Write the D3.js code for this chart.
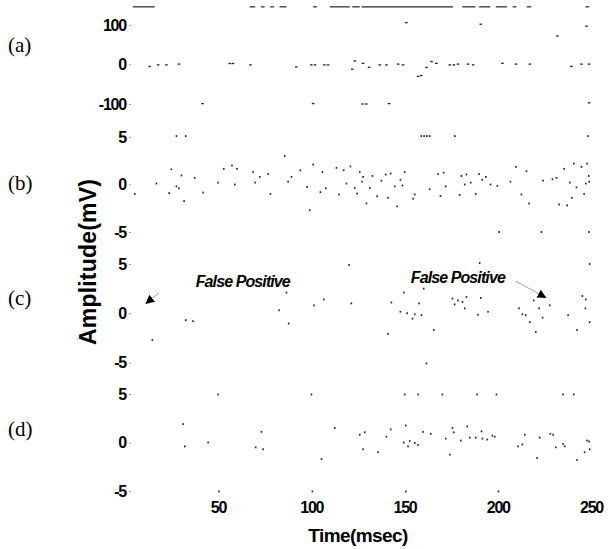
<!DOCTYPE html>
<meta charset="utf-8">
<head>
<style>
body { margin: 0; background: #fff; }
svg { display: block; }
.tick text { font-family: "Liberation Sans", Arial, sans-serif; font-weight: bold; font-size: 16px; letter-spacing: -1.2px; fill: #000; }
.tick line { stroke: #999; }
.title { font-family: "Liberation Sans", Arial, sans-serif; font-weight: bold; fill: #000; }
.plabel { font-family: "Liberation Serif", "Times New Roman", serif; font-size: 21px; fill: #000; }
.fp { font-family: "Liberation Sans", Arial, sans-serif; font-weight: bold; font-style: italic; font-size: 16px; letter-spacing: -0.9px; fill: #000; }
.dot { fill: #222; }
</style>
</head>
<body>
<script src="https://cdnjs.cloudflare.com/ajax/libs/d3/7.8.5/d3.min.js"></script>
<script>
//----------------------------DATA------------------------------//
var timeTicks = [50, 100, 150, 200, 250];
var panelNames = ["(a)", "(b)", "(c)", "(d)"];
var ticksA = [-100, 0, 100];
var ticksB = [-5, 0, 5];
var ticksC = [-5, 0, 5];
var ticksD = [-5, 0, 5];

// (a) [time msec, amplitude]
var sigA = [[13.4,-5],[17.9,-1],[22.3,-1],[29.1,1],[56.3,2.5],[58,2.5],[67.4,-1],[92,-6],
  [100,-1],[102,-1],[107,-1],[109,-1],[122,-12],[123.3,9],[127.8,3],[131,-7],[136.7,-1],
  [140.3,-1],[146.6,1],[149.2,-1],[157.3,-30],[159,-28],[161.8,-7.5],[164.5,7.5],[167.1,3],
  [174.3,-1],[176.5,-1],[178.7,1],[184.1,1],[186.8,-1],[202.5,3],[209.7,1],[217.2,1],
  [239.5,-5],[244.9,1],[249,1],
  [151,106],[190.9,102],[247.6,97],[232,72],
  [41.7,-99],[101,-99],[127.5,-100],[129.5,-100],[141.7,-99],[249,-97]];
// (a) top trace, pieces [from, to] in msec
var topA = [[4.3,16.1],[67,70],[73,75],[78,80],[83,86.7],[101,103],[110,120.6],[122,126],
  [127,176],[181,188],[190,196],[199,205],[208,210],[215.5,218],[247,249]];

var sigB = [[5.4,-1],[17,0.1],[23.8,-0.9],[25,1.6],[27.7,-0.2],[29.1,-0.4],[30.4,0.95],
  [31.8,-1.75],[37.5,0.7],[42,-0.85],[50,0.2],[53.1,1.65],[57.5,2],[60.2,1.65],[59,0],
  [68.8,1.3],[69.9,0.2],[72.4,0.8],[76.9,1.1],[78.1,-1],[85.8,3],[87.6,0.3],[89.4,0.8],
  [94.2,1.5],[97.8,-0.25],[99.2,-2.7],[101,2.1],[104.9,-0.8],[106,1.3],[107.8,-0.4],
  [113.5,1.75],[114.9,-1.05],[117.4,1.5],[118.9,0.1],[121,1.9],[123.3,-0.35],[124.6,-0.95],
  [126,1.3],[127.2,0.3],[127.8,0.8],[129.6,-2],[131.4,-0.35],[132.8,0.9],[135.3,-1.25],
  [137.6,0.4],[139.9,1.05],[141.2,-1.4],[142.6,1.15],[144.8,-0.2],[146,-2.3],[147.8,0.5],
  [148.9,-0.1],[150.1,1.3],[154.6,-1.5],[155.5,-1.05],[163.5,-0.5],[168,1.1],[169.3,-1.2],
  [171,1.25],[172.1,-0.2],[179.6,-1.1],[180.5,0.9],[182.3,0],[183.2,1.05],[185.5,0.2],
  [188.2,-1],[190,1.1],[191.6,0.5],[193.6,0.8],[196.1,0],[199.8,-0.15],[206.8,0.3],
  [209.7,1.85],[212.7,-1.05],[215.4,1.4],[216.8,-2],[224.3,0.4],[229.3,0.55],[231.5,0.7],
  [232.9,-2.1],[235.6,1.65],[237.2,-2.2],[238.6,0.2],[239.7,-1.4],[240.8,2.2],[242.2,-0.3],
  [244.9,1.85],[246.3,-1],[247.2,0.1],[247.9,2.2],[248.8,0.9],[249,0.3],
  [27.7,5.1],[32.7,5.1],[159,5.1],[160.5,5.1],[162,5.1],[163.5,5.1],[177,5.1],[248.4,5.1],
  [200.7,-5],[223.4,-5],[249,-5]];

var sigC = [[14.8,-2.7],[32.7,-0.7],[36.6,-0.8],[82.7,0.3],[86.7,2.1],[87.9,-1.05],[101.5,0.8],
  [106.7,1.4],[120.3,4.9],[121.5,1],[141.2,-2.1],[143,1.1],[147.8,0.15],[149.6,2.1],[151.4,0],
  [154.3,-0.55],[155.5,-0.1],[157.8,1],[159.1,-0.2],[160.3,2.5],[161.8,-5.1],[165.7,-1.7],
  [175.7,1.5],[176.9,0.9],[178.7,1.3],[181.1,1.15],[183.2,1.65],[182.3,0.5],[189.4,-0.15],
  [190.9,1.55],[194.8,0.15],[190.3,5.1],[211.4,0.5],[213.2,-0.1],[215,-0.2],[217.2,-0.9],
  [219.3,1.3],[220.4,-1.9],[222.2,0.5],[224,-0.45],[227.9,0.8],[237.7,-0.2],[242.5,-1.7],
  [245.4,1.75],[247.2,1.4],[247,0.5],[249.3,-0.9],[249.3,5]];

var sigD = [[31.3,1.9],[32.2,-0.4],[44.7,0],[70.2,-0.5],[73.3,1.1],[74.2,-0.7],[105.5,-1.7],
  [112.6,1.5],[126,0.8],[127.8,-0.7],[128.7,1.05],[135.8,-1],[140.3,0.6],[142.6,1.35],
  [149.6,0],[150.7,1.75],[151.9,-0.4],[152.8,0.15],[155.5,-0.05],[157.3,-0.25],[159.9,1.1],
  [164.1,0.9],[172.1,0.4],[174.3,-1.25],[175.7,1.5],[176.4,1.05],[180.2,0.2],[183.6,1.65],
  [185,0.5],[188.2,0.5],[191.3,1.15],[191.8,0.4],[194.3,0.3],[197.1,0.7],[198.4,0.6],
  [210.9,-0.4],[213.2,-0.2],[214.5,0.8],[221.1,-1.6],[222.5,0.5],[228.2,0.9],[229.7,0.8],
  [231.1,-0.5],[235,-0.15],[235.9,-0.4],[242.5,-1.8],[246.6,-1],[247.9,0.2],[249.3,-0.7],[249,0.1],
  [50,4.95],[100.1,4.95],[150.1,4.95],[157.3,4.95],[170.3,4.95],[188.9,4.95],[199.3,4.95],
  [235,4.95],[240.8,4.95],[50.5,-5.05],[100.6,-5.05],[150.7,-5.05],[200.4,-5.05]];

// false positive notes on (c): text at [t, v], arrow from [t, v] to [t, v]
var fpText = [[63.3, 3.4], [178.6, 3.8]];
var fpArrow = [[[18.4, 2.1], [11.4, 1.0]], [[209.7, 3.25], [225.7, 1.6]]];

//----------------------------LAYOUT----------------------------//
var width = 610, height = 549;
var svg = d3.select("body").append("svg")
    .attr("width", width)
    .attr("height", height);

var x = d3.scaleLinear().domain([0, 250]).range([124.75, 591]);

var panels = [
  { name: panelNames[0], ticks: ticksA, data: sigA, y: d3.scaleLinear().domain([-150, 150]).range([123.75, 5.25]), ly: 52, w: 2.6, h: 1.3 },
  { name: panelNames[1], ticks: ticksB, data: sigB, y: d3.scaleLinear().domain([-5, 5]).range([232, 137]), ly: 190, w: 1.6, h: 1.8 },
  { name: panelNames[2], ticks: ticksC, data: sigC, y: d3.scaleLinear().domain([-5, 5]).range([362.5, 264]), ly: 305, w: 1.6, h: 1.8 },
  { name: panelNames[3], ticks: ticksD, data: sigD, y: d3.scaleLinear().domain([-5, 5]).range([491, 394]), ly: 436, w: 1.6, h: 1.8 }
];

svg.append("defs").append("marker")
    .attr("id", "head")
    .attr("viewBox", "0 0 10 10")
    .attr("refX", 9).attr("refY", 5)
    .attr("markerWidth", 9).attr("markerHeight", 9)
    .attr("markerUnits", "userSpaceOnUse")
    .attr("orient", "auto")
  .append("path")
    .attr("d", "M0,0L10,5L0,10z")
    .attr("fill", "#000");

panels.forEach(function(p) {
    var g = svg.append("g");

    // plain hyphen for negatives, as in the scan
    g.append("g")
        .attr("transform", "translate(131,0)")
        .call(d3.axisLeft(p.y).tickValues(p.ticks).tickSize(2).tickPadding(3).tickFormat(function(d) { return String(d); }))
        .call(function(a) { a.select(".domain").remove(); });

    g.append("text")
        .attr("class", "plabel")
        .attr("x", 8)
        .attr("y", p.ly)
        .text(p.name);

    g.selectAll(".dot")
        .data(p.data)
        .enter()
        .append("rect")
        .attr("class", "dot")
        .attr("x", function(d) { return x(d[0]) - p.w / 2; })
        .attr("y", function(d) { return p.y(d[1]) - p.h / 2; })
        .attr("width", p.w)
        .attr("height", p.h);
});

// top trace of (a)
svg.append("g").selectAll("line")
    .data(topA)
    .enter()
    .append("line")
    .attr("x1", function(d) { return x(d[0]); })
    .attr("x2", function(d) { return x(d[1]); })
    .attr("y1", panels[0].y(146))
    .attr("y2", panels[0].y(146))
    .attr("stroke", "#222")
    .attr("stroke-width", 1.2);

// false positive notes
var yc = panels[2].y;
svg.selectAll(".fp")
    .data(fpText)
    .enter()
    .append("text")
    .attr("class", "fp")
    .attr("text-anchor", "middle")
    .attr("x", function(d) { return x(d[0]); })
    .attr("y", function(d) { return yc(d[1]) + 7; })
    .text("False Positive");

svg.selectAll(".arrow")
    .data(fpArrow)
    .enter()
    .append("line")
    .attr("class", "arrow")
    .attr("x1", function(d) { return x(d[0][0]); })
    .attr("y1", function(d) { return yc(d[0][1]); })
    .attr("x2", function(d) { return x(d[1][0]); })
    .attr("y2", function(d) { return yc(d[1][1]); })
    .attr("stroke", "#888")
    .attr("stroke-width", 0.8)
    .attr("marker-end", "url(#head)");

// time axis
svg.append("g")
    .attr("transform", "translate(0,500)")
    .call(d3.axisBottom(x).tickValues(timeTicks).tickSize(0).tickPadding(2))
    .call(function(a) { a.select(".domain").remove(); });

svg.append("text")
    .attr("class", "title")
    .attr("x", 358)
    .attr("y", 542)
    .attr("text-anchor", "middle")
    .style("font-size", "19px")
    .style("letter-spacing", "-0.6px")
    .text("Time(msec)");

svg.append("text")
    .attr("class", "title")
    .attr("transform", "translate(96,262) rotate(-90)")
    .attr("text-anchor", "middle")
    .style("font-size", "23px")
    .style("letter-spacing", "0.2px")
    .text("Amplitude(mV)");
</script>
</body>
</html>
